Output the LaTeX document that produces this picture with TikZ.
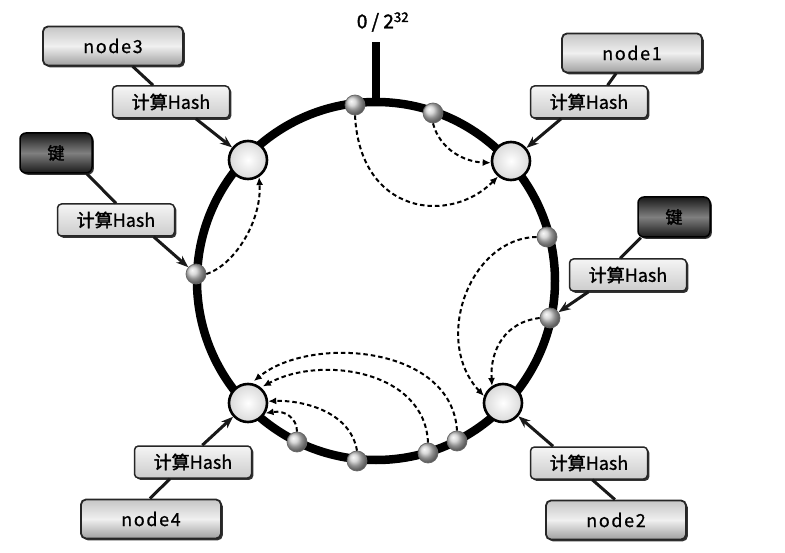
\documentclass[tikz,border=0pt]{standalone}
\usepackage{fontspec}
\newfontfamily\cjk{Noto Sans CJK SC}[FakeBold=0.8]
\newfontfamily\cjkb{Noto Sans CJK SC}[FakeBold=1.8]
\newfontfamily\cjkls{Noto Sans CJK SC}[LetterSpace=9,FakeBold=0.6]
\usetikzlibrary{shadows,arrows.meta}
\begin{document}
\begin{tikzpicture}[x=1pt,y=-1pt,
  shadowed/.style={drop shadow={shadow xshift=1.8pt, shadow yshift=-1.8pt, opacity=.8, fill=black}},
  nodebox/.style={shadowed, draw=black!85, line width=1.8pt, rounded corners=5pt,
    minimum width=140pt, minimum height=39pt, inner sep=0pt,
    top color=gray!45, bottom color=gray!75, middle color=gray!12,
    font=\cjkls\fontsize{18}{21}\selectfont},
  hashbox/.style={shadowed, draw=black!85, line width=1.5pt, rounded corners=4pt,
    minimum width=117pt, minimum height=32pt, inner sep=0pt,
    top color=gray!8, bottom color=gray!40,
    font=\fontsize{18}{21}\selectfont},
  keybox/.style={shadowed, draw=black, line width=1.5pt, rounded corners=6pt,
    minimum width=72pt, minimum height=40pt, inner sep=0pt,
    top color=black!90, bottom color=black!90, middle color=black!50,
    font=\cjkb\fontsize{17}{20}\selectfont},
  hashnode/.style={circle, draw=black, line width=2.6pt, minimum size=38pt, inner sep=0pt,
    inner color=white, outer color=gray!30},
  ballnode/.style={circle, draw=black!60, line width=.7pt, minimum size=20pt, inner sep=0pt,
    shading=ball, ball color=gray!40},
  conn/.style={line width=3pt, black!90},
  connarrow/.style={conn, -{Stealth[length=12pt,width=9pt]}},
  dasharrow/.style={line width=2pt, dash pattern=on 4.5pt off 3pt, -{Latex[length=8pt,width=7pt]}},
  ringline/.style={line width=8.5pt, black}
]
\useasboundingbox (0,0) rectangle (785,553);
\fill[white] (0,0) rectangle (785,553);

% ring and zero mark
\draw[ringline] (376,281) circle[radius=179pt];
\coordinate (ringtop) at (376,102);
\coordinate (ticktop) at (376,42);
\draw[ringline] (ringtop) -- (ticktop);
\node[font=\cjkb\fontsize{19}{22}\selectfont] (zero) at (383,22) {0 / 2\textsuperscript{32}};

% small balls (keys)
\node[ballnode] (b1) at (355,105) {};
\node[ballnode] (b2) at (433,113) {};
\node[ballnode] (b3) at (547,237) {};
\node[ballnode] (b4) at (550,318) {};
\node[ballnode] (b5) at (196,274) {};
\node[ballnode] (b6) at (297,442) {};
\node[ballnode] (b7) at (357,461) {};
\node[ballnode] (b8) at (428,453) {};
\node[ballnode] (b9) at (457,441) {};

% big circles (servers)
\node[hashnode] (n3c) at (248,160) {};
\node[hashnode] (n1c) at (511,161) {};
\node[hashnode] (n2c) at (503,403) {};
\node[hashnode] (n4c) at (248,403) {};

% dashed mapping arrows
\draw[dasharrow] (b1.south) .. controls (360,215) and (450,225) .. (n1c.230);
\draw[dasharrow] (b2.south) .. controls (440,150) and (465,162) .. (n1c.185);
\draw[dasharrow] (b5.east) .. controls (235,265) and (262,220) .. (n3c.-57);
\draw[dasharrow] (b3.west) .. controls (470,238) and (432,340) .. (n2c.160);
\draw[dasharrow] (b4.west) .. controls (505,322) and (490,350) .. (n2c.123);
\draw[dasharrow, shorten >=3pt] (b9.north) .. controls (452,345) and (310,335) .. (n4c.80);
\draw[dasharrow, shorten >=2pt] (b8.north) .. controls (425,370) and (320,355) .. (n4c.50);
\draw[dasharrow] (b7.north) .. controls (350,410) and (300,400) .. (n4c.5);
\draw[dasharrow] (b6.north) .. controls (297,418) and (285,410) .. (n4c.-30);

% boxes
\node[nodebox] (node3) at (113,46) {node3};
\node[hashbox] (hash3) at (171,102) {{\cjkb 计算}{\cjk Hash}};
\node[keybox] (keyL) at (56,153) {键};
\node[hashbox] (hashL) at (116,220) {{\cjkb 计算}{\cjk Hash}};
\node[nodebox] (node1) at (632,53) {node1};
\node[hashbox] (hash1) at (589,102) {{\cjkb 计算}{\cjk Hash}};
\node[keybox] (keyR) at (674,217) {键};
\node[hashbox] (hashR) at (628,275) {{\cjkb 计算}{\cjk Hash}};
\node[hashbox] (hash2) at (589,463) {{\cjkb 计算}{\cjk Hash}};
\node[nodebox] (node2) at (616,520) {node2};
\node[hashbox] (hash4) at (193,462) {{\cjkb 计算}{\cjk Hash}};
\node[nodebox] (node4) at (151,519) {node4};

% connectors
\draw[conn] (node3.-46) -- (hash3.137);
\draw[connarrow] (hash3.-34) -- (n3c);
\draw[conn] (keyL.-34) -- (hashL.north);
\draw[connarrow] (hashL.-24) -- (b5);
\draw[conn] (node1.-128) -- (hash1.42);
\draw[connarrow] (hash1.-149) -- (n1c);
\draw[conn] (keyR.-148) -- (hashR.115);
\draw[connarrow] (hashR.-157) -- (b4);
\draw[conn] (node2.93) -- (hash2.-79);
\draw[connarrow] (hash2.155) -- (n2c);
\draw[conn] (node4.93) -- (hash4.-144);
\draw[connarrow] (hash4.61) -- (n4c);
\end{tikzpicture}
\end{document}
